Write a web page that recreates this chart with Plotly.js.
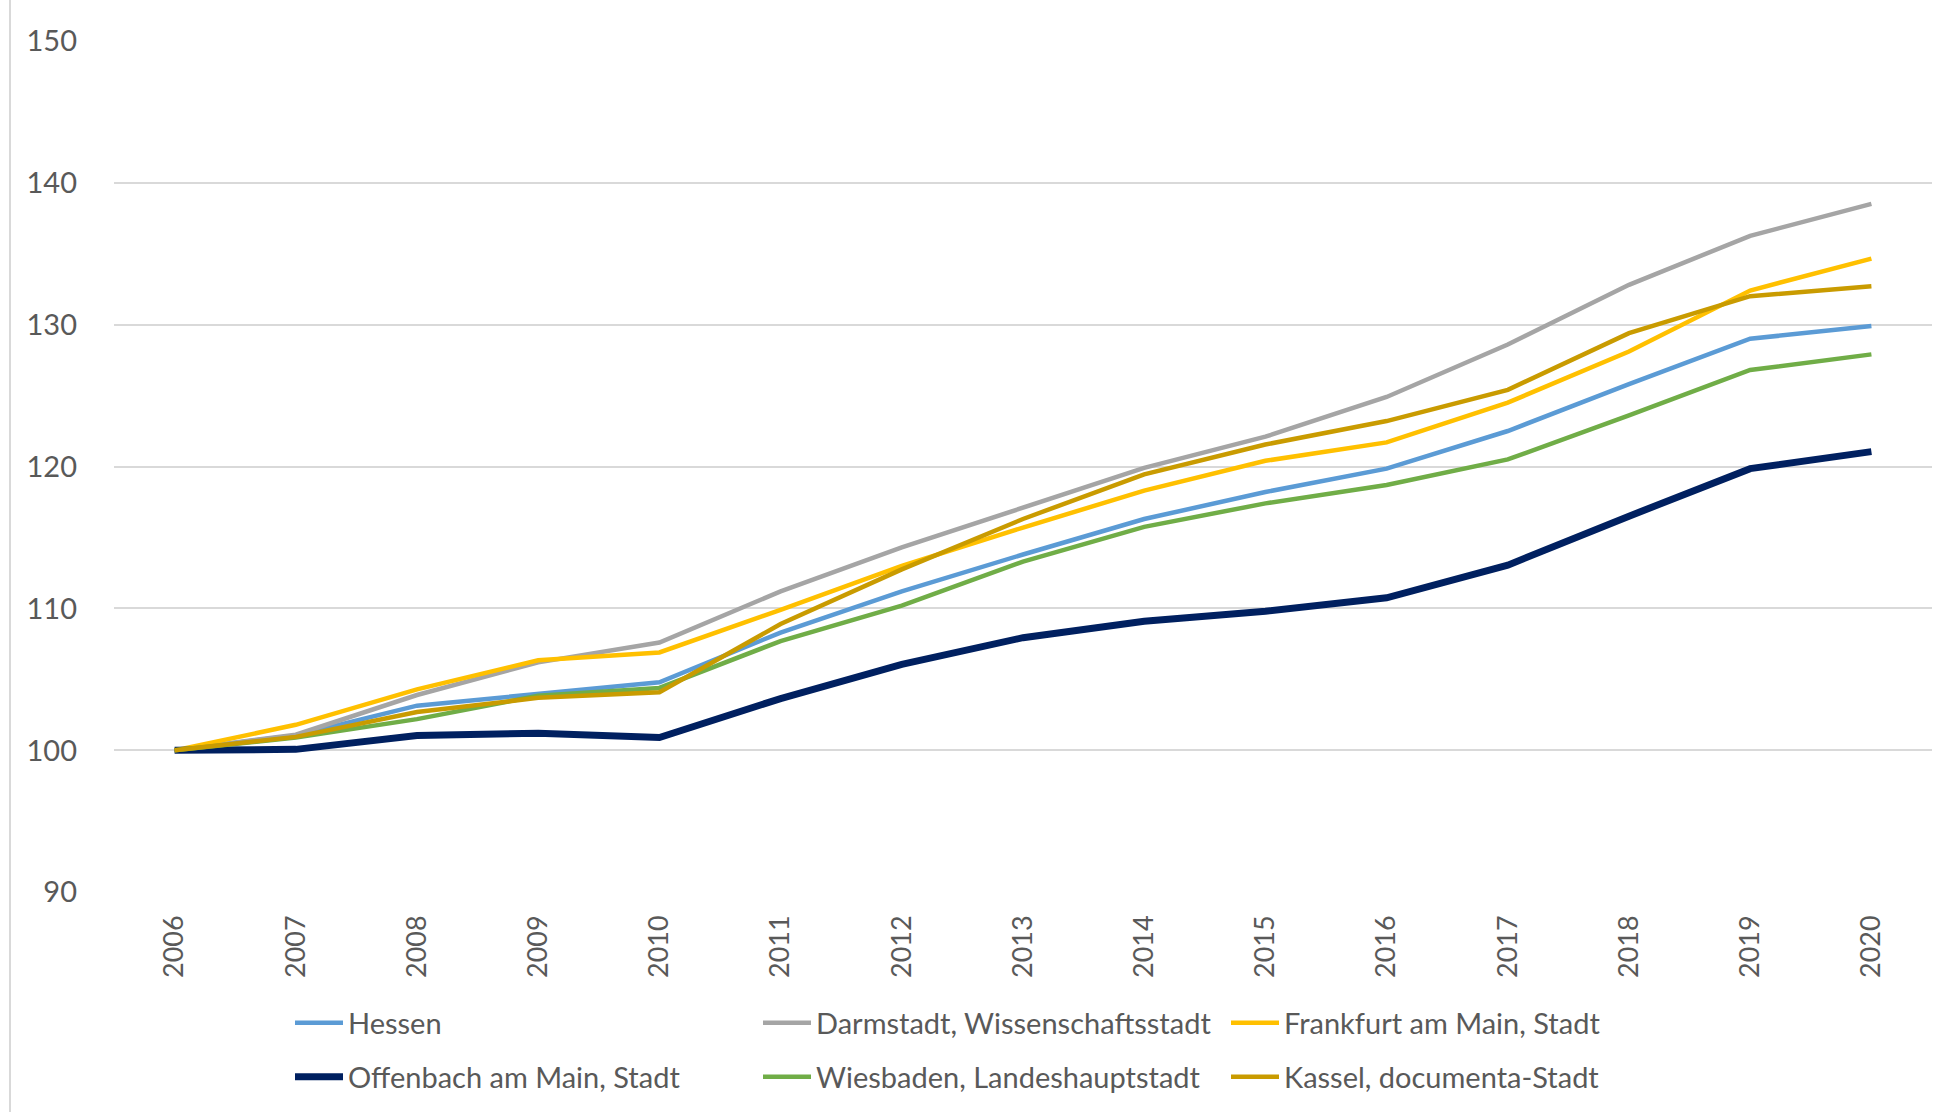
<!DOCTYPE html>
<html>
<head>
<meta charset="utf-8">
<script src="https://cdn.plot.ly/plotly-3.0.1.min.js"></script>
<style>html,body{margin:0;padding:0;background:#fff;}#chart{width:1939px;height:1112px;}</style>
</head>
<body>
<div id="chart"></div>
<script>
const years = ["2006","2007","2008","2009","2010","2011","2012","2013","2014","2015","2016","2017","2018","2019","2020"];
const hessen     = [100, 101.05, 103.15, 104.0, 104.8, 108.3, 111.2, 113.8, 116.3, 118.2, 119.85, 122.5, 125.8, 129.0, 129.9];
const darmstadt  = [100, 101.1, 103.9, 106.2, 107.6, 111.2, 114.3, 117.1, 119.9, 122.1, 124.9, 128.6, 132.8, 136.25, 138.5];
const frankfurt  = [100, 101.8, 104.3, 106.35, 106.9, 109.9, 113.0, 115.7, 118.3, 120.4, 121.7, 124.5, 128.1, 132.4, 134.65];
const offenbach  = [100, 100.07, 101.05, 101.2, 100.9, 103.65, 106.06, 107.94, 109.1, 109.8, 110.75, 113.05, 116.5, 119.85, 121.05];
const wiesbaden  = [100, 100.9, 102.2, 103.85, 104.4, 107.7, 110.2, 113.3, 115.75, 117.4, 118.7, 120.5, 123.6, 126.8, 127.9];
const kassel     = [100, 100.95, 102.7, 103.7, 104.1, 108.9, 112.75, 116.3, 119.45, 121.55, 123.2, 125.4, 129.4, 132.0, 132.7];
const seriesNames = ["Hessen","Darmstadt, Wissenschaftsstadt","Frankfurt am Main, Stadt","Offenbach am Main, Stadt","Wiesbaden, Landeshauptstadt","Kassel, documenta-Stadt"];

const FONT = "Lato, 'Open Sans', sans-serif";
const TXT = "#595959";

function tr(name, y, color, width, legend) {
  return {type:"scatter", mode:"lines", x:years, y:y, name:name,
    line:{color:color, width:width, shape:"linear"}, legend:legend, hoverinfo:"skip"};
}
const data = [
  tr(seriesNames[0], hessen,    "#5B9BD5", 4.5, "legend"),
  tr(seriesNames[1], darmstadt, "#A5A5A5", 4.5, "legend"),
  tr(seriesNames[2], frankfurt, "#FFC000", 4.5, "legend"),
  tr(seriesNames[3], offenbach, "#002060", 7,   "legend2"),
  tr(seriesNames[4], wiesbaden, "#70AD47", 4.5, "legend2"),
  tr(seriesNames[5], kassel,    "#C99B00", 4.5, "legend2")
];

const legCommon = {
  orientation:"h", xref:"container", yref:"container",
  x:290/1939, xanchor:"left", yanchor:"middle",
  entrywidth:405, entrywidthmode:"pixels", itemwidth:48,
  font:{family:FONT, size:29, color:TXT}, bgcolor:"rgba(0,0,0,0)", borderwidth:0,
  traceorder:"normal"
};

const layout = {
  width:1939, height:1112,
  paper_bgcolor:"#fff", plot_bgcolor:"#fff",
  margin:{l:114, r:7, t:40, b:219},
  font:{family:FONT, size:29, color:TXT},
  showlegend:true,
  legend:Object.assign({}, legCommon, {y:1-1023/1112}),
  legend2:Object.assign({}, legCommon, {y:1-1077/1112}),
  xaxis:{type:"category", range:[-0.5,14.5], showgrid:false, zeroline:false, showline:false,
    ticks:"", tickangle:-90, ticklabelstandoff:16, tickfont:{family:FONT, size:27, color:TXT}},
  yaxis:{range:[89.95,150.05], dtick:10, tick0:90, showgrid:true, gridcolor:"#D9D9D9", gridwidth:2,
    zeroline:false, showline:false, ticks:"", ticklabelstandoff:36,
    tickfont:{family:FONT, size:29, color:TXT}},
  shapes:[{type:"line", xref:"paper", yref:"paper", x0:-104/1818, x1:-104/1818, y0:-219/853, y1:1+40/853,
    line:{color:"#D9D9D9", width:2}}]
};

Plotly.newPlot("chart", data, layout, {displayModeBar:false, staticPlot:true});
</script>
</body>
</html>
